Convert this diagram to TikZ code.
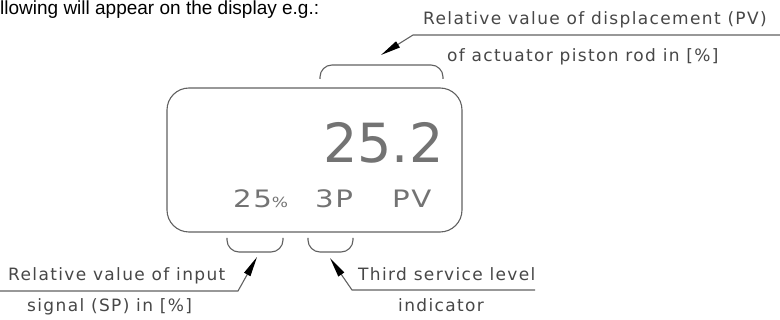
\documentclass[tikz,border=0pt]{standalone}
\usepackage{fontspec}
\setmainfont{DejaVu Sans}
\newfontfamily\hdrfont{Liberation Sans}
\newfontfamily\lblfont[LetterSpace=8]{DejaVu Sans}
\newfontfamily\dspfont[FakeStretch=1.22,LetterSpace=6]{DejaVu Sans}
\usetikzlibrary{arrows.meta}
\begin{document}
\begin{tikzpicture}[x=1pt,y=-1pt,
  line/.style={draw=black!62, line width=1.1pt},
  bracket/.style={line, rounded corners=12pt},
  leader/.style={line, -{Triangle[length=20pt,width=7pt,color=black,fill=black]}},
  lbl/.style={font=\lblfont\fontsize{17}{17}\selectfont, text=black!72, inner sep=0pt, anchor=base west},
  dsp/.style={font=\dspfont\fontsize{24}{24}\selectfont, text=black!55, inner sep=0pt, anchor=base west},
]
\useasboundingbox (0,0) rectangle (780,320);

% header line
\node[font=\hdrfont\fontsize{19}{19}\selectfont, inner sep=0pt, anchor=base west] (hdr) at (0,15) {llowing will appear on the display e.g.:};

% display
\node[line, rounded corners=22pt, minimum width=295pt, minimum height=144pt, inner sep=0pt] (disp) at (314.5,160) {};
\node[dsp, font=\fontsize{54}{54}\selectfont] (val) at (323,163) {25.2};
\node[dsp] (sp) at (233,208) {25{\fontsize{14}{14}\selectfont\%}};
\node[dsp] (lvl) at (315,208) {3P};
\node[dsp] (pv) at (392,208) {PV};

% brackets
\draw[bracket] (320,79) -- (320,65) -- coordinate[pos=0.5] (tb) (443,65) -- (443,79);
\draw[bracket] (227,238) -- (227,252) -- coordinate[pos=0.5] (lb) (283,252) -- (283,238);
\draw[bracket] (308,238) -- (308,252) -- coordinate[pos=0.5] (rb) (353,252) -- (353,238);

% leader end points
\coordinate (ttip) at (381,55);
\coordinate (tknee) at (413,35);
\coordinate (tend) at (780,35);
\coordinate (ltip) at (257,257);
\coordinate (lknee) at (238,291);
\coordinate (lend) at (0,291);
\coordinate (rtip) at (330,258);
\coordinate (rknee) at (352,290);
\coordinate (rend) at (535,290);

\draw[leader] (tend) -- (tknee) -- (ttip);
\draw[leader] (lend) -- (lknee) -- (ltip);
\draw[leader] (rend) -- (rknee) -- (rtip);

% labels
\node[lbl] (t1) at (423,25) {Relative value of displacement (PV)};
\node[lbl] (t2) at (447,62) {of actuator piston rod in [\%]};
\node[lbl] (b1) at (8,281) {Relative value of input};
\node[lbl] (b2) at (27,312) {signal (SP) in [\%]};
\node[lbl] (b3) at (358,281) {Third service level};
\node[lbl] (b4) at (398,312) {indicator};
\end{tikzpicture}
\end{document}
